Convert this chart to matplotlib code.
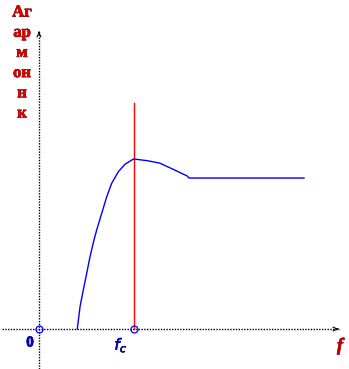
import matplotlib
matplotlib.use("Agg")
import matplotlib.pyplot as plt
import matplotlib.patheffects as pe

# Data (units: fc = 1, peak amplitude = 1)
curve_x = [0.403, 0.432, 0.466, 0.502, 0.537, 0.579, 0.607, 0.660, 0.713, 0.765, 0.835, 0.905,
           0.976, 1.000, 1.14, 1.27, 1.41, 1.56, 1.58, 2.79]
curve_y = [0.000, 0.131, 0.229, 0.327, 0.425, 0.524, 0.582, 0.680, 0.778, 0.857, 0.925, 0.969,
           0.994, 1.000, 0.99, 0.976, 0.94, 0.90, 0.888, 0.888]
fc = 1.0
fc_line_top = 1.33
ylabel_parts = ["Аг", "ар", "м", "он", "н", "к"]

fig = plt.figure(figsize=(3.49, 3.69), dpi=100)
ax = fig.add_axes([0, 0, 1, 1])
ax.set_xlim(-39/95, 310/95)
ax.set_ylim(-40/170, 329/170)
ax.axis("off")

# axes (dotted)
ax.plot([-37/95, 300/95], [0, 0], color="black", lw=1, ls=(0, (1, 1)))
ax.plot([0, 0], [-40/170, 298/170], color="black", lw=1, ls=(0, (1, 1)))
ax.annotate("", xy=(302/95, 0), xytext=(296/95, 0),
            arrowprops=dict(arrowstyle="->", color="black", lw=0.8, mutation_scale=7))
ax.annotate("", xy=(0, 300/170), xytext=(0, 294/170),
            arrowprops=dict(arrowstyle="->", color="black", lw=0.8, mutation_scale=7))

# fc vertical line
ax.plot([fc, fc], [0, fc_line_top], color="#ff0000", lw=1)

# curve
ax.plot(curve_x, curve_y, color="#0000ff", lw=1)

# circles
ax.plot([0, fc], [0, 0], ls="none", marker="o", ms=5, mfc="none", mec="#0000ff", mew=0.9)

# y label letters
stroke = [pe.withStroke(linewidth=0.5, foreground="#600000")]
for i, t in enumerate(ylabel_parts):
    base_py = 16.5 + i * 20.2
    ax.text(-17/95, (329 - base_py)/170, t, color="#e00000", fontsize=12, fontweight="bold",
            family="Liberation Serif", ha="center", va="baseline", path_effects=stroke)

bstroke = [pe.withStroke(linewidth=0.5, foreground="#000050")]
ax.text(-9/95, -14/170, "0", color="#0000cc", fontsize=11, fontweight="bold",
        family="Liberation Serif", ha="center", va="center", path_effects=bstroke)
ax.text(fc - 13/95, -16/170, r"$\mathbf{\mathit{f}}_{\mathbf{\mathit{c}}}$", color="#0000cc", fontsize=11,
        ha="center", va="center", path_effects=bstroke)
ax.text(301/95, -17/170, "f", color="#cc0000", fontsize=13, fontweight="bold", style="italic",
        family="Liberation Serif", ha="center", va="center", path_effects=stroke)

fig.savefig("out.png", dpi=100)
